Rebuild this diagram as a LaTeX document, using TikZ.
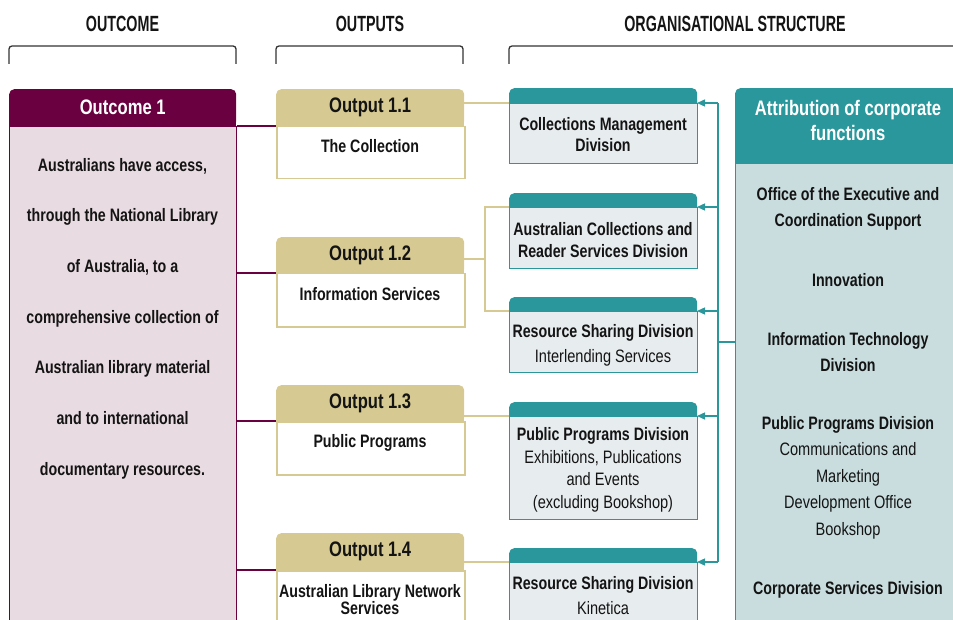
\documentclass[tikz,border=0pt]{standalone}
\usepackage{fontspec}
\setmainfont{Liberation Sans}[FakeStretch=0.79]
\newfontfamily\hdfont{Liberation Sans}[FakeStretch=0.65]
\newfontfamily\rgfont{Liberation Sans}[FakeStretch=0.81]
\newcommand\rgtxt[1]{{\rgfont\mdseries #1}}
\usetikzlibrary{arrows.meta}
\definecolor{maroonc}{RGB}{107,0,64}
\definecolor{pinkc}{RGB}{233,219,226}
\definecolor{tanc}{RGB}{214,201,145}
\definecolor{tealc}{RGB}{41,151,155}
\definecolor{divbodyc}{RGB}{231,236,238}
\definecolor{rightbodyc}{RGB}{201,221,223}
\definecolor{inkc}{RGB}{20,20,20}
\begin{document}
\begin{tikzpicture}[x=1pt,y=-1pt,
  colhead/.style={font=\hdfont\bfseries\fontsize{22}{24}\selectfont, inner sep=0, text=inkc},
  bkt/.style={draw=black!80, line width=1.3, rounded corners=3},
  ochd/.style={anchor=north west, inner sep=0, minimum width=227, minimum height=37, fill=maroonc, rounded corners=5, text=white, font=\bfseries\fontsize{21}{24}\selectfont},
  ocbd/.style={anchor=north west, inner sep=0, minimum width=227, minimum height=530, fill=pinkc, draw=maroonc, line width=1},
  othd/.style={anchor=north west, inner sep=0, minimum width=188, minimum height=37, fill=tanc, rounded corners=5, text=inkc, font=\bfseries\fontsize{21}{24}\selectfont},
  otbd/.style={anchor=north west, inner sep=0, minimum width=188, fill=white, draw=tanc, line width=1.5},
  dvhd/.style={anchor=north west, inner sep=0, minimum width=188, fill=tealc, rounded corners=5},
  dvbd/.style={anchor=north west, inner sep=0, minimum width=188, fill=divbodyc, draw=tealc, line width=1},
  rchd/.style={anchor=north west, inner sep=0, minimum width=226, minimum height=75, fill=tealc, rounded corners=5},
  rcbd/.style={anchor=north west, inner sep=0, minimum width=226, minimum height=500, fill=rightbodyc, draw=tealc, line width=1},
  bt/.style={font=\bfseries\fontsize{18}{21}\selectfont, align=center, inner sep=0, text=inkc, yshift=-2.5pt},
  mln/.style={draw=maroonc, line width=1.2},
  tln/.style={draw=tanc, line width=1.5},
  cln/.style={draw=tealc, line width=1.4},
  carr/.style={draw=tealc, line width=1.4, -{Triangle[length=8pt,width=7pt]}, shorten >=-1pt}
]
\useasboundingbox (0,0) rectangle (953,620);
\clip (0,0) rectangle (953,620);

% column headings and brackets
\node[colhead] (hOutcome) at (122.5,24) {OUTCOME};
\node[colhead] (hOutputs) at (370,24) {OUTPUTS};
\node[colhead] (hOrg) at (735,24) {ORGANISATIONAL STRUCTURE};
\draw[bkt] (9,64) -- (9,46) -- (236,46) -- (236,64);
\draw[bkt] (276,64) -- (276,46) -- (463,46) -- (463,64);
\draw[bkt] (509,64) -- (509,46) -- (965,46) -- (965,64);

% outcome
\node[ochd] (och) at (9,89) {Outcome 1};
\fill[maroonc] ([yshift=6pt]och.south west) rectangle (och.south east);
\node[ocbd] (ocb) at (9,126) {};
\node[bt, font=\bfseries\fontsize{18}{50.67}\selectfont] (oct) at (122.5,316)
  {Australians have access,\\through the National Library\\of Australia, to a\\comprehensive collection of\\Australian library material\\and to international\\documentary resources.};

% outputs
\node[othd] (o11h) at (276,89) {Output 1.1};
\fill[tanc] ([yshift=6pt]o11h.south west) rectangle (o11h.south east);
\node[otbd, minimum height=52] (o11b) at (276,126) {};
\node[bt] (o11t) at (370,144) {The Collection};

\node[othd] (o12h) at (276,237) {Output 1.2};
\fill[tanc] ([yshift=6pt]o12h.south west) rectangle (o12h.south east);
\node[otbd, minimum height=53] (o12b) at (276,273) {};
\node[bt] (o12t) at (370,292) {Information Services};

\node[othd] (o13h) at (276,385) {Output 1.3};
\fill[tanc] ([yshift=6pt]o13h.south west) rectangle (o13h.south east);
\node[otbd, minimum height=53] (o13b) at (276,421) {};
\node[bt] (o13t) at (370,440) {Public Programs};

\node[othd] (o14h) at (276,533) {Output 1.4};
\fill[tanc] ([yshift=6pt]o14h.south west) rectangle (o14h.south east);
\node[otbd, minimum height=90] (o14b) at (276,570) {};
\node[bt, font=\bfseries\fontsize{18}{17}\selectfont] (o14t) at (370,597.5) {Australian Library Network\\Services};

% divisions
\node[dvhd, minimum height=23] (d1h) at (509,88) {};
\node[dvbd, minimum height=60] (d1b) at (509,103) {};
\node[bt] (d1t) at (603,132.5) {Collections Management\\Division};

\node[dvhd, minimum height=22] (d2h) at (509,193) {};
\node[dvbd, minimum height=61] (d2b) at (509,207) {};
\node[bt, font=\bfseries\fontsize{18}{22}\selectfont] (d2t) at (603,238) {Australian Collections and\\Reader Services Division};

\node[dvhd, minimum height=22] (d3h) at (509,297) {};
\node[dvbd, minimum height=61] (d3b) at (509,311) {};
\node[bt, font=\bfseries\fontsize{18}{25}\selectfont] (d3t) at (603,342.5) {Resource Sharing Division\\\rgtxt{Interlending Services}};

\node[dvhd, minimum height=22] (d4h) at (509,402) {};
\node[dvbd, minimum height=103] (d4b) at (509,416) {};
\node[bt, font=\bfseries\fontsize{18}{22.5}\selectfont] (d4t) at (603,467.5) {Public Programs Division\\\rgtxt{Exhibitions, Publications}\\\rgtxt{and Events}\\\rgtxt{(excluding Bookshop)}};

\node[dvhd, minimum height=22] (d5h) at (509,548) {};
\node[dvbd, minimum height=100] (d5b) at (509,562) {};
\node[bt, font=\bfseries\fontsize{18}{25}\selectfont] (d5t) at (603,593.5) {Resource Sharing Division\\\rgtxt{Kinetica}};

% right column
\node[rchd] (rch) at (735,88) {};
\fill[tealc] ([yshift=6pt]rch.south west) rectangle (rch.south east);
\node[rcbd] (rcb) at (735,163) {};
\node[bt, text=white, yshift=2.5pt, font=\bfseries\fontsize{21}{25}\selectfont] (rcht) at (848,120.5) {Attribution of corporate\\functions};
\node[bt, font=\bfseries\fontsize{18}{26}\selectfont] (r1) at (848,206) {Office of the Executive and\\Coordination Support};
\node[bt] (r2) at (848,278) {Innovation};
\node[bt, font=\bfseries\fontsize{18}{26}\selectfont] (r3) at (848,350) {Information Technology\\Division};
\node[bt, font=\bfseries\fontsize{18}{26.5}\selectfont] (r4) at (848,475) {Public Programs Division\\\rgtxt{Communications and}\\\rgtxt{Marketing}\\\rgtxt{Development Office}\\\rgtxt{Bookshop}};
\node[bt] (r5) at (848,587) {Corporate Services Division};

% outcome -> outputs
\draw[mln] (ocb.north east) -- (o11b.north west);
\draw[mln] (ocb.east |- o12b.north west) -- (o12b.north west);
\draw[mln] (ocb.east |- o13b.north west) -- (o13b.north west);
\draw[mln] (ocb.east |- o14b.north west) -- (o14b.north west);

% outputs -> divisions
\coordinate (j12) at (485,259);
\draw[tln] (o11h.east |- d1b.north west) -- (d1b.north west);
\draw[tln] (o12h.east |- j12) -- (j12);
\draw[tln] (d2b.north west) -| (j12) |- (d3b.north west);
\draw[tln] (o13h.east |- d4b.north west) -- (d4b.north west);
\draw[tln] (o14h.east |- d5b.north west) -- (d5b.north west);

% corporate functions -> divisions
\coordinate (sp) at (718,342);
\draw[cln] (rcb.west |- sp) -- (sp);
\draw[cln] (sp |- d1b.north east) -- (sp |- d5b.north east);
\foreach \d in {d1b,d2b,d3b,d4b,d5b}
  \draw[carr] (sp |- \d.north east) -- (\d.north east);
\end{tikzpicture}
\end{document}
